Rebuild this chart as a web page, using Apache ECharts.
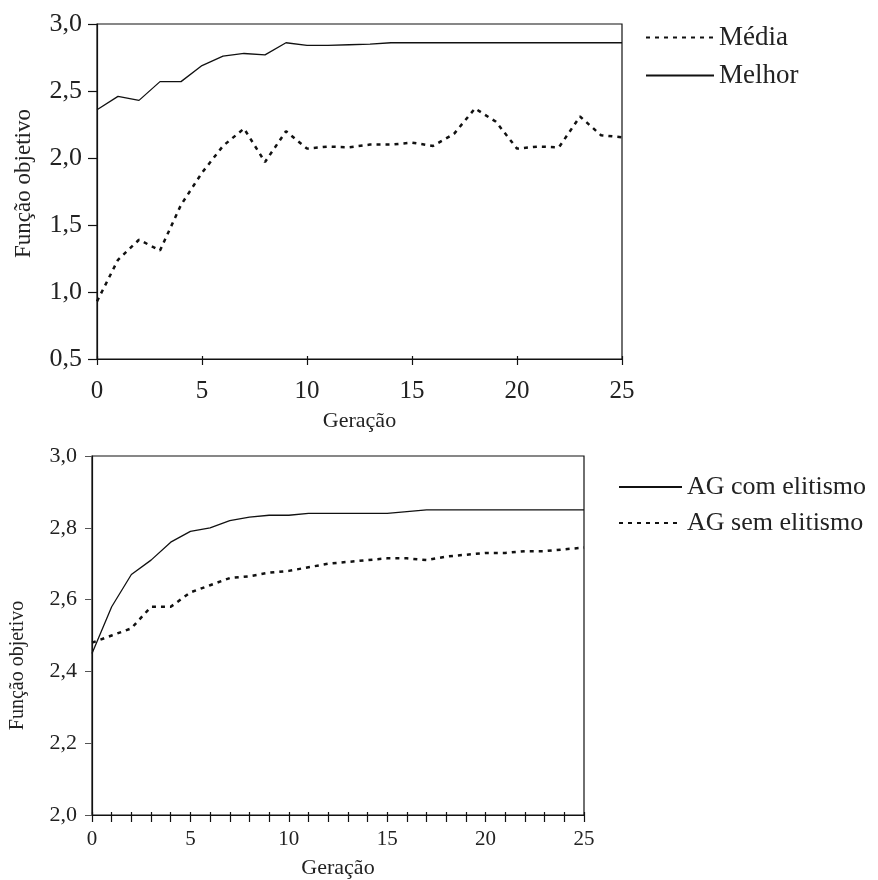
<!DOCTYPE html>
<html>
<head>
<meta charset="utf-8">
<script src="https://cdn.jsdelivr.net/npm/echarts@6/dist/echarts.min.js"></script>
<style>
html,body{margin:0;padding:0;background:#fff;}
#chart{width:878px;height:880px;}
</style>
</head>
<body>
<div id="chart"></div>
<script>
// ---- Data ----
const generations = [0,1,2,3,4,5,6,7,8,9,10,11,12,13,14,15,16,17,18,19,20,21,22,23,24,25];
// Top chart
const mediaValues  = [0.93,1.24,1.39,1.31,1.65,1.89,2.09,2.22,1.97,2.20,2.07,2.085,2.08,2.10,2.10,2.115,2.09,2.18,2.37,2.27,2.07,2.085,2.08,2.31,2.17,2.155];
const melhorValues = [2.36,2.46,2.43,2.57,2.57,2.69,2.76,2.78,2.77,2.86,2.84,2.84,2.845,2.85,2.86,2.86,2.86,2.86,2.86,2.86,2.86,2.86,2.86,2.86,2.86,2.86];
// Bottom chart
const comElitismo = [2.45,2.58,2.67,2.71,2.76,2.79,2.80,2.82,2.83,2.835,2.835,2.84,2.84,2.84,2.84,2.84,2.845,2.85,2.85,2.85,2.85,2.85,2.85,2.85,2.85,2.85];
const semElitismo = [2.48,2.50,2.52,2.58,2.58,2.62,2.64,2.66,2.665,2.675,2.68,2.69,2.70,2.705,2.71,2.715,2.715,2.71,2.72,2.725,2.73,2.73,2.735,2.735,2.74,2.745];
// Labels
const topSeriesNames = ['Média','Melhor'];
const bottomSeriesNames = ['AG com elitismo','AG sem elitismo'];
const xAxisTitle = 'Geração';
const yAxisTitle = 'Função objetivo';

const pairs = (ys) => generations.map((g, i) => [g, ys[i]]);
const FONT = "'Liberation Serif', 'Times New Roman', serif";
const INK = '#111';
const TXT = '#222';
const fmt = (v) => v.toFixed(1).replace('.', ',');

const chart = echarts.init(document.getElementById('chart'), null, {renderer: 'canvas'});

const option = {
  animation: false,
  backgroundColor: '#fff',
  textStyle: {fontFamily: FONT, color: TXT},
  grid: [
    {left: 97, top: 24, width: 525, height: 335, show: true, borderColor: INK, borderWidth: 1.2, backgroundColor: 'transparent'},
    {left: 92, top: 456, width: 492, height: 359, show: true, borderColor: INK, borderWidth: 1.2, backgroundColor: 'transparent'}
  ],
  legend: [
    {
      data: topSeriesNames, orient: 'vertical', left: 645, top: 24, padding: 0,
      itemWidth: 68, itemHeight: 14, itemGap: 11,
      itemStyle: {opacity: 0},
      textStyle: {fontFamily: FONT, fontSize: 27, lineHeight: 27, color: TXT},
      selectedMode: false
    },
    {
      data: bottomSeriesNames, orient: 'vertical', left: 618, top: 474, padding: 0,
      itemWidth: 63, itemHeight: 14, itemGap: 10,
      itemStyle: {opacity: 0},
      textStyle: {fontFamily: FONT, fontSize: 26, lineHeight: 26, color: TXT},
      selectedMode: false
    }
  ],
  xAxis: [
    {
      type: 'value', gridIndex: 0, min: 0, max: 25, interval: 5,
      name: xAxisTitle, nameLocation: 'middle', nameGap: 51,
      nameTextStyle: {fontFamily: FONT, fontSize: 22, color: TXT},
      axisLine: {show: true, lineStyle: {color: INK, width: 1.2}},
      axisTick: {show: true, inside: false, length: 6, lineStyle: {color: INK, width: 1.2}},
      axisLabel: {fontFamily: FONT, fontSize: 25, color: TXT, margin: 20},
      splitLine: {show: false}
    },
    {
      type: 'value', gridIndex: 0, min: 0, max: 25, interval: 5, position: 'bottom',
      axisLine: {show: false},
      axisTick: {show: true, inside: true, length: 3, lineStyle: {color: INK, width: 1.2}},
      axisLabel: {show: false},
      splitLine: {show: false}
    },
    {
      type: 'value', gridIndex: 1, min: 0, max: 25, interval: 1,
      name: xAxisTitle, nameLocation: 'middle', nameGap: 42,
      nameTextStyle: {fontFamily: FONT, fontSize: 22, color: TXT},
      axisLine: {show: true, lineStyle: {color: INK, width: 1.2}},
      axisTick: {show: true, inside: false, length: 7, lineStyle: {color: INK, width: 1.2}},
      axisLabel: {fontFamily: FONT, fontSize: 21, color: TXT, margin: 14,
        formatter: (v) => (v % 5 === 0 ? String(v) : '')},
      splitLine: {show: false}
    },
    {
      type: 'value', gridIndex: 1, min: 0, max: 25, interval: 1, position: 'bottom',
      axisLine: {show: false},
      axisTick: {show: true, inside: true, length: 3, lineStyle: {color: INK, width: 1.2}},
      axisLabel: {show: false},
      splitLine: {show: false}
    }
  ],
  yAxis: [
    {
      type: 'value', gridIndex: 0, min: 0.5, max: 3.0, interval: 0.5,
      name: yAxisTitle, nameLocation: 'middle', nameGap: 62, nameRotate: 90,
      nameTextStyle: {fontFamily: FONT, fontSize: 23, color: TXT, padding: [0, 0, 0, 16]},
      axisLine: {show: true, lineStyle: {color: INK, width: 1.2}},
      axisTick: {show: true, inside: false, length: 9, lineStyle: {color: INK, width: 1.2}},
      axisLabel: {fontFamily: FONT, fontSize: 26, color: TXT, margin: 15, formatter: fmt},
      splitLine: {show: false}
    },
    {
      type: 'value', gridIndex: 1, min: 2.0, max: 3.0, interval: 0.2,
      name: yAxisTitle, nameLocation: 'middle', nameGap: 64, nameRotate: 90,
      nameTextStyle: {fontFamily: FONT, fontSize: 20, color: TXT, padding: [0, 60, 0, 0]},
      axisLine: {show: true, lineStyle: {color: INK, width: 1.2}},
      axisTick: {show: true, inside: false, length: 7, lineStyle: {color: '#555', width: 1}},
      axisLabel: {fontFamily: FONT, fontSize: 22, color: TXT, margin: 15, formatter: fmt},
      splitLine: {show: false}
    }
  ],
  series: [
    {
      name: topSeriesNames[0], type: 'line', xAxisIndex: 0, yAxisIndex: 0,
      data: pairs(mediaValues), symbol: 'none',
      lineStyle: {color: INK, width: 2.5, type: [4, 5]}, itemStyle: {color: INK}
    },
    {
      name: topSeriesNames[1], type: 'line', xAxisIndex: 0, yAxisIndex: 0,
      data: pairs(melhorValues), symbol: 'none',
      lineStyle: {color: INK, width: 1.3, type: 'solid'}, itemStyle: {color: INK}
    },
    {
      name: bottomSeriesNames[0], type: 'line', xAxisIndex: 2, yAxisIndex: 1,
      data: pairs(comElitismo), symbol: 'none',
      lineStyle: {color: INK, width: 1.3, type: 'solid'}, itemStyle: {color: INK}
    },
    {
      name: bottomSeriesNames[1], type: 'line', xAxisIndex: 2, yAxisIndex: 1,
      data: pairs(semElitismo), symbol: 'none',
      lineStyle: {color: INK, width: 2.5, type: [4, 5]}, itemStyle: {color: INK}
    }
  ]
};
chart.setOption(option);
</script>
</body>
</html>
